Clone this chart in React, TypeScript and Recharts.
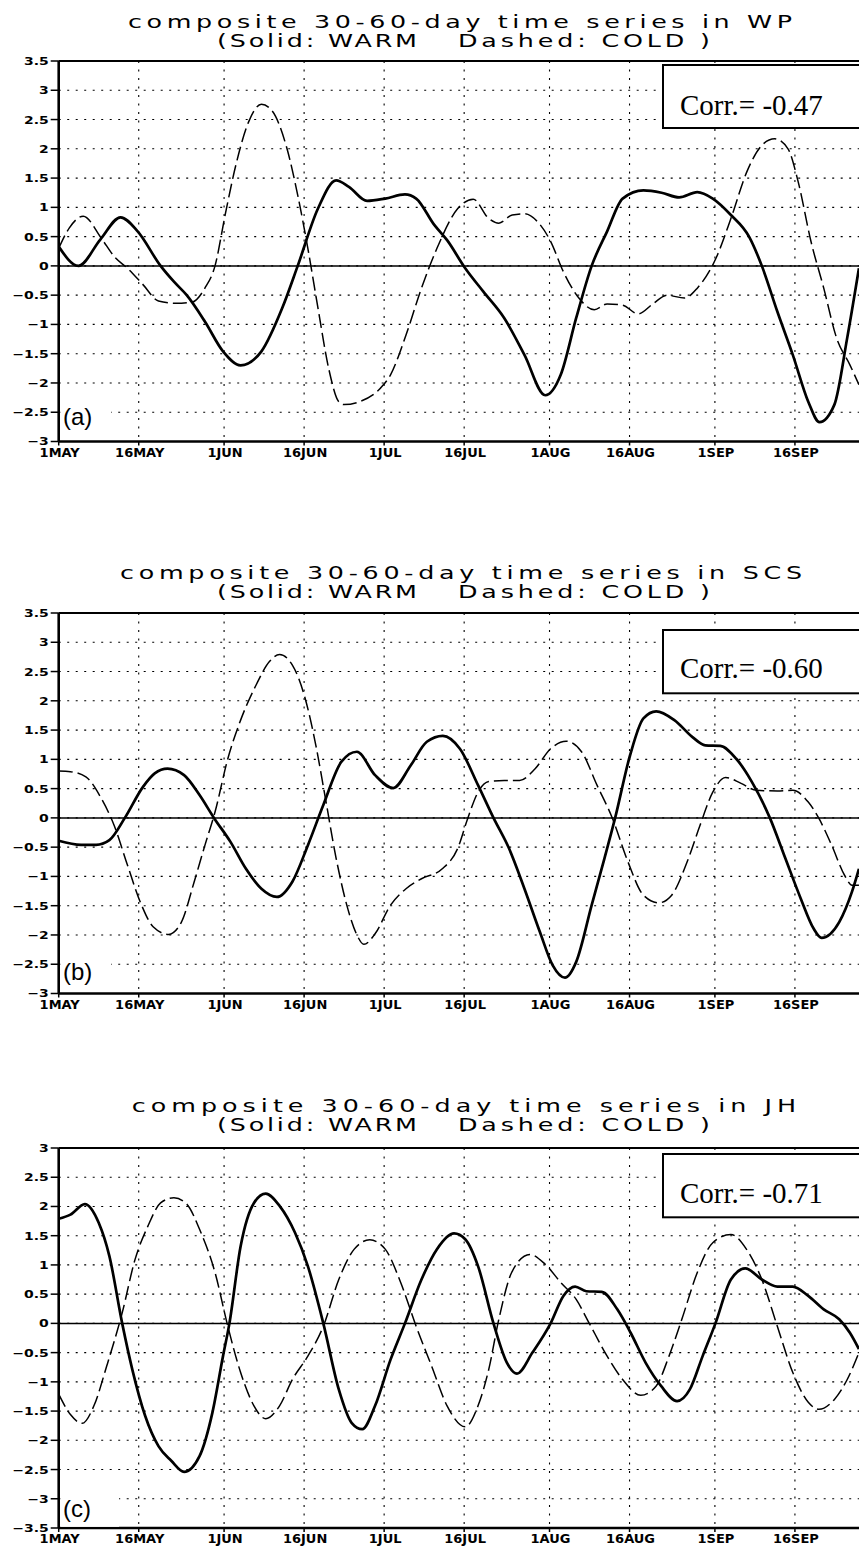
import React from 'react';
import { LineChart, Line, XAxis, YAxis, CartesianGrid, ReferenceLine } from 'recharts';

// ---------- data ----------
const TICK_DAYS = [0, 15, 31, 46, 61, 76, 92, 107, 123, 138];
const TICK_LABELS = ['1MAY', '16MAY', '1JUN', '16JUN', '1JUL', '16JUL', '1AUG', '16AUG', '1SEP', '16SEP'];
const Y_TICKS_AB = [-3, -2.5, -2, -1.5, -1, -0.5, 0, 0.5, 1, 1.5, 2, 2.5, 3, 3.5];
const Y_TICKS_C = [-3.5, -3, -2.5, -2, -1.5, -1, -0.5, 0, 0.5, 1, 1.5, 2, 2.5, 3];
const TITLES = [
  'composite 30-60-day time series in WP',
  'composite 30-60-day time series in SCS',
  'composite 30-60-day time series in JH',
];
const SUBTITLE_A = '(Solid: WARM';
const SUBTITLE_B = 'Dashed: COLD )';
const CORR_TEXT = ['Corr.= -0.47', 'Corr.= -0.60', 'Corr.= -0.71'];
const PANEL_LABELS = ['(a)', '(b)', '(c)'];

// [day since 1 May, value]
const WP_WARM = [
  [0, 0.33], [3.7, 0.0], [7.8, 0.45], [11.6, 0.83], [14.8, 0.59], [19.1, 0.0], [21.6, -0.27], [24, -0.5],
  [27.4, -0.95], [30.8, -1.46], [34.1, -1.7], [38, -1.46], [41.9, -0.72], [44.8, 0.0], [48.6, 0.98],
  [52, 1.46], [54.4, 1.35], [57.8, 1.11], [61.2, 1.15], [64.9, 1.22], [67, 1.15], [70.4, 0.7],
  [72.8, 0.44], [76.2, -0.04], [79.6, -0.44], [83.5, -0.89], [87.3, -1.52], [91.2, -2.21], [94.1, -1.86],
  [97, -0.89], [99.9, 0.0], [102.8, 0.59], [105.7, 1.15], [109.6, 1.29], [113, 1.25], [116.3, 1.17],
  [119.7, 1.26], [122.6, 1.15], [126, 0.87], [129.4, 0.5], [131.8, 0.0], [134.7, -0.78], [137.6, -1.52],
  [140.5, -2.32], [142.6, -2.67], [145.4, -2.37], [147.8, -1.23], [150, -0.04],
];
const WP_COLD = [
  [0, 0.3], [2, 0.65], [4.6, 0.85], [8, 0.47], [10.5, 0.15], [12.9, -0.04], [15.8, -0.32], [18.7, -0.6],
  [22, -0.64], [25, -0.62], [27.4, -0.38], [29.3, 0.0], [31.2, 0.87], [33.2, 1.72], [35.6, 2.46],
  [38, 2.76], [39.9, 2.66], [42.8, 2.0], [44.8, 1.21], [46.7, 0.3], [48.6, -0.72], [50.6, -1.75],
  [52.5, -2.32], [53.5, -2.37], [56.4, -2.32], [60.3, -2.09], [62.2, -1.86], [65.1, -1.18], [68, -0.38],
  [70.9, 0.3], [74.8, 0.98], [77.7, 1.14], [80.6, 0.81], [82.5, 0.73], [85, 0.87], [87.3, 0.89],
  [89.7, 0.76], [92.2, 0.42], [94.6, -0.1], [97.5, -0.55], [100.4, -0.75], [102.8, -0.65], [105.7, -0.67],
  [108.6, -0.82], [111.5, -0.64], [114, -0.5], [117.3, -0.55], [119.7, -0.38], [123.2, 0.13], [126, 0.81],
  [129, 1.61], [131.8, 2.06], [134.2, 2.17], [136.7, 2.0], [138.6, 1.44], [141, 0.42], [143.4, -0.38],
  [145.8, -1.23], [148.3, -1.69], [150, -2.03],
];
const SCS_WARM = [
  [0, -0.39], [4.2, -0.46], [7, -0.46], [9.5, -0.38], [12.4, 0.0], [15.8, 0.53], [18, 0.76], [20.4, 0.84],
  [23.5, 0.73], [26.4, 0.39], [29.1, 0.0], [32.2, -0.41], [35.1, -0.87], [38, -1.21], [40.9, -1.35],
  [43.8, -1.09], [46.7, -0.47], [49.6, 0.22], [53, 0.96], [55.9, 1.13], [59.3, 0.73], [62.7, 0.51],
  [66, 0.9], [69, 1.3], [72, 1.4], [75.2, 1.18], [78.6, 0.56], [81.5, 0.0], [84.4, -0.52], [87.3, -1.21],
  [90.2, -1.95], [92.6, -2.52], [94.9, -2.73], [97, -2.46], [99.9, -1.49], [102.3, -0.69], [104.3, 0.0],
  [107.1, 1.07], [109.6, 1.7], [112, 1.82], [115.4, 1.67], [118.8, 1.38], [121.2, 1.24], [124, 1.23],
  [127, 1.01], [129.9, 0.62], [133.3, 0.0], [136.2, -0.69], [139.1, -1.38], [141.5, -1.89], [143, -2.05],
  [146.3, -1.78], [148.7, -1.26], [150, -0.87],
];
const SCS_COLD = [
  [0, 0.8], [2.2, 0.79], [5.1, 0.7], [8, 0.33], [10.4, -0.13], [12.9, -0.81], [15.3, -1.44], [17.7, -1.86],
  [20.6, -1.99], [23, -1.78], [25.4, -1.09], [27.4, -0.47], [29.3, 0.1], [31.7, 1.01], [34.1, 1.67],
  [37, 2.27], [39.5, 2.67], [41.4, 2.79], [43.8, 2.61], [46.2, 2.04], [48.2, 1.24], [50, 0.33], [52, -0.69],
  [54, -1.49], [55.9, -2.0], [57.2, -2.16], [59.3, -1.98], [62.2, -1.49], [65.1, -1.21], [68, -1.04],
  [71.9, -0.87], [74.8, -0.52], [76.7, 0.0], [78.6, 0.44], [80.6, 0.62], [83.5, 0.64], [86.4, 0.64],
  [89.3, 0.84], [92.2, 1.18], [95.1, 1.31], [98, 1.13], [100.9, 0.56], [103.8, -0.01], [106.7, -0.75],
  [109.6, -1.32], [112.5, -1.45], [114.9, -1.32], [117.8, -0.75], [120.2, -0.13], [122.6, 0.44], [125, 0.69],
  [127.9, 0.59], [130.8, 0.47], [134.7, 0.46], [137.6, 0.47], [140.5, 0.27], [142.5, -0.01], [144.9, -0.47],
  [147.3, -0.98], [148.7, -1.15], [150, -1.15],
];
const JH_WARM = [
  [0, 1.79], [2.2, 1.86], [4.9, 2.04], [7.5, 1.72], [9.5, 1.15], [11.9, 0.0], [13.8, -0.79], [16.2, -1.58],
  [18.7, -2.1], [21.1, -2.35], [23.5, -2.54], [26.4, -2.27], [28.8, -1.53], [30.8, -0.56], [32, 0.0],
  [34.1, 1.32], [36.6, 2.06], [38.8, 2.22], [41.4, 2.01], [44.3, 1.55], [46.7, 0.98], [49.6, 0.0],
  [52.5, -1.13], [54.9, -1.7], [56.9, -1.81], [59.3, -1.41], [62.2, -0.62], [64.9, 0.0], [68, 0.75],
  [70.9, 1.27], [74.1, 1.54], [76.2, 1.44], [78.6, 0.98], [81.5, 0.0], [84, -0.67], [85.9, -0.86],
  [88.8, -0.5], [92.2, 0.0], [94.6, 0.47], [96.8, 0.63], [98.9, 0.55], [101.8, 0.54], [104.7, 0.24],
  [107.2, -0.16], [110, -0.67], [112.9, -1.07], [115.9, -1.33], [118.3, -1.13], [120.7, -0.56], [123.1, 0.0],
  [126, 0.75], [128.7, 0.94], [131.8, 0.75], [134.7, 0.63], [137.6, 0.63], [140.5, 0.47], [143.4, 0.24],
  [146.3, 0.07], [148.3, -0.16], [150, -0.44],
];
const JH_COLD = [
  [0, -1.21], [2.2, -1.56], [4.4, -1.71], [6.6, -1.41], [9, -0.73], [11.9, 0.18], [14.3, 1.09], [16.7, 1.66],
  [19.1, 2.06], [21.6, 2.15], [24, 2.04], [26.4, 1.61], [29.3, 0.87], [31.7, -0.05], [34.1, -0.84],
  [36.6, -1.41], [38.8, -1.63], [41.4, -1.41], [43.8, -0.96], [46.7, -0.56], [49.6, -0.05], [52.5, 0.75],
  [55.4, 1.27], [58.3, 1.43], [61.2, 1.27], [64.1, 0.7], [67, -0.05], [69.9, -0.73], [72.8, -1.41],
  [76.2, -1.77], [78.6, -1.41], [80.6, -0.79], [82.5, 0.07], [84.9, 0.87], [88.3, 1.18], [91.2, 1.01],
  [94.1, 0.7], [97, 0.41], [99.4, 0.01], [102.8, -0.56], [105.7, -0.96], [109.1, -1.23], [112, -1.07],
  [114.4, -0.56], [116.8, 0.07], [119.7, 0.87], [122.6, 1.38], [126, 1.52], [128.9, 1.27], [131.8, 0.75],
  [134.7, -0.05], [137.6, -0.84], [140.5, -1.35], [142.5, -1.47], [145.4, -1.3], [147.8, -0.96], [150, -0.5],
];

// ---------- layout ----------
const X0 = 58.7;
const PX_PER_DAY = 5.335;
const DAY_MAX = 153;
const CHART_W = X0 + DAY_MAX * PX_PER_DAY;
const TOP_PAD = 10;
const X_AXIS_H = 30;
const TITLE_FS = 17.5;
const TITLE_SX = 1.45;

const PANELS = [
  {
    warm: WP_WARM, cold: WP_COLD, yTicks: Y_TICKS_AB, domain: [-3, 3.5],
    plotTop: 61, plotBottom: 441.5, t1: 28.3, t2: 46.7, t1x: [128, 792],
    boxTop: 65, boxBottom: 128, corrY: 114.5, labelY: 425, labelRight: 111,
  },
  {
    warm: SCS_WARM, cold: SCS_COLD, yTicks: Y_TICKS_AB, domain: [-3, 3.5],
    plotTop: 612.7, plotBottom: 993.2, t1: 579.3, t2: 597.7, t1x: [120, 802],
    boxTop: 630, boxBottom: 693.3, corrY: 677.5, labelY: 980, labelRight: 111,
  },
  {
    warm: JH_WARM, cold: JH_COLD, yTicks: Y_TICKS_C, domain: [-3.5, 3],
    plotTop: 1148.3, plotBottom: 1528.3, t1: 1112, t2: 1130.5, t1x: [131.7, 796],
    boxTop: 1154, boxBottom: 1217.3, corrY: 1202.7, labelY: 1517, labelRight: 119,
  },
];

const toPts = (arr: number[][]) => arr.map(([d, v]) => ({ d, v }));
const fmt = (v: number) => (v < 0 ? '\u2212' + String(Math.abs(v)) : String(v));

function Panel({ idx }: { idx: number }) {
  const p = PANELS[idx];
  const h = p.plotBottom - p.plotTop + TOP_PAD + X_AXIS_H;
  const localBottom = p.plotBottom - p.plotTop + TOP_PAD;
  const XTick = (props: any) => {
    const i = TICK_DAYS.indexOf(props.payload.value);
    return (
      <text x={props.x + 1} y={localBottom + 15.2} textAnchor="middle"
        fontFamily="DejaVu Sans" fontWeight="bold" fontSize={13} fill="#000">
        {i >= 0 ? TICK_LABELS[i] : ''}
      </text>
    );
  };
  const YTick = (props: any) => (
    <text transform={`translate(${X0 - 10},${props.y}) scale(1.27,1)`} x={0} y={0} dy="0.36em" textAnchor="end"
      fontFamily="DejaVu Sans" fontWeight="bold" fontSize={11} fill="#000">
      {fmt(props.payload.value)}
    </text>
  );
  return (
    <div style={{ position: 'absolute', left: 0, top: p.plotTop - TOP_PAD }}>
      <LineChart width={CHART_W} height={h} margin={{ top: TOP_PAD, right: 0, bottom: 0, left: 0 }}>
        <CartesianGrid stroke="#000" strokeWidth={1.1} strokeDasharray="2 6.5" />
        <XAxis dataKey="d" type="number" domain={[0, DAY_MAX]} ticks={TICK_DAYS} allowDataOverflow
          height={X_AXIS_H} tickSize={4} interval={0}
          axisLine={{ stroke: '#000', strokeWidth: 2.6 }} tickLine={{ stroke: '#000', strokeWidth: 1.5 }}
          tick={XTick} />
        <YAxis type="number" domain={p.domain} ticks={p.yTicks} allowDataOverflow width={X0}
          tickSize={8} interval={0}
          axisLine={{ stroke: '#000', strokeWidth: 2.6 }} tickLine={{ stroke: '#000', strokeWidth: 1.5 }}
          tick={YTick} />
        <ReferenceLine y={0} stroke="#000" strokeWidth={1.5} />
        <ReferenceLine y={p.domain[1]} stroke="#000" strokeWidth={2.2} />
        <Line data={toPts(p.cold)} dataKey="v" type="monotone" dot={false} stroke="#000"
          strokeWidth={1.5} strokeDasharray="14 5" isAnimationActive={false} />
        <Line data={toPts(p.warm)} dataKey="v" type="monotone" dot={false} stroke="#000"
          strokeWidth={2.7} isAnimationActive={false} />
      </LineChart>
    </div>
  );
}

function StretchText({ x1, x2, y, children }: { x1: number; x2: number; y: number; children: string }) {
  return (
    <text transform={`translate(${x1},${y}) scale(${TITLE_SX},1)`} x={0} y={0}
      textLength={(x2 - x1) / TITLE_SX} lengthAdjust="spacing"
      fontFamily="DejaVu Sans" fontSize={TITLE_FS} fill="#000">{children}</text>
  );
}

function Overlay() {
  return (
    <svg width={859} height={1549} style={{ position: 'absolute', left: 0, top: 0, pointerEvents: 'none' }}>
      {PANELS.map((p, i) => (
        <g key={i}>
          <StretchText x1={p.t1x[0]} x2={p.t1x[1]} y={p.t1}>{TITLES[i]}</StretchText>
          <StretchText x1={217} x2={417} y={p.t2}>{SUBTITLE_A}</StretchText>
          <StretchText x1={458} x2={710} y={p.t2}>{SUBTITLE_B}</StretchText>
          <rect x={663} y={p.boxTop} width={240} height={p.boxBottom - p.boxTop}
            fill="#fff" stroke="#000" strokeWidth={2} />
          <text x={680} y={p.corrY} fontFamily="Liberation Serif" fontSize={29} fill="#000">{CORR_TEXT[i]}</text>
          <rect x={60.5} y={p.labelY - 22} width={p.labelRight - 60.5}
            height={p.plotBottom - 1.5 - (p.labelY - 22)} fill="#fff" />
          <text x={63} y={p.labelY} fontFamily="Liberation Sans" fontSize={24} fill="#000">{PANEL_LABELS[i]}</text>
        </g>
      ))}
    </svg>
  );
}

export default function App() {
  return (
    <div style={{ position: 'absolute', left: 0, top: 0, width: 859, height: 1549, overflow: 'hidden', background: '#fff' }}>
      <Panel idx={0} />
      <Panel idx={1} />
      <Panel idx={2} />
      <Overlay />
    </div>
  );
}
